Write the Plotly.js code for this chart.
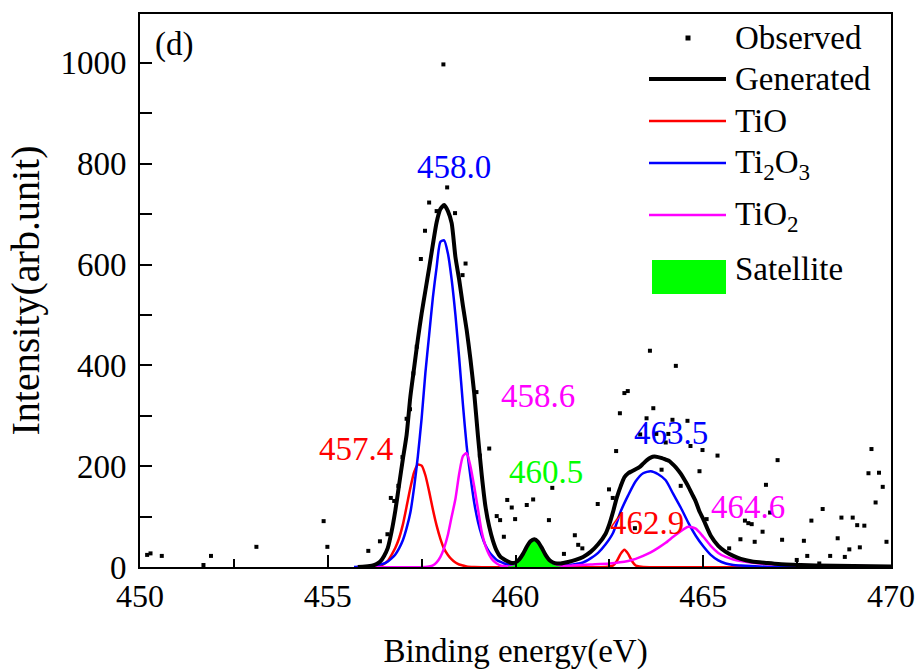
<!DOCTYPE html>
<html>
<head>
<meta charset="utf-8">
<script src="https://cdn.plot.ly/plotly-3.0.1.min.js"></script>
<style>html,body{margin:0;padding:0;background:#fff;}#chart{width:920px;height:670px;}</style>
</head>
<body>
<div id="chart"></div>
<script>
// Observed data points
var obsEnergy = [450.19, 450.28, 450.58, 451.69, 451.89, 453.10, 454.89, 454.99, 456.08, 456.39,
  456.59, 456.68, 456.77, 456.88, 456.99, 457.10, 457.19, 457.28, 457.37, 457.48,
  457.59, 457.70, 457.90, 458.08, 458.18, 458.39, 458.59, 458.67, 458.96, 459.05,
  459.30, 459.50, 459.59, 459.69, 459.78, 459.90, 459.99, 460.30, 460.47, 460.89,
  460.98, 461.29, 461.58, 461.67, 461.78, 462.19, 462.49, 462.59, 462.68, 462.78,
  462.90, 462.99, 463.18, 463.32, 463.49, 463.58, 463.67, 463.75, 463.89, 464.00,
  464.07, 464.18, 464.27, 464.40, 464.58, 464.66, 464.90, 464.98, 465.09, 465.38,
  465.69, 465.99, 466.11, 466.20, 466.29, 466.37, 466.58, 466.67, 466.78, 466.98,
  467.10, 467.49, 467.68, 467.77, 467.88, 468.09, 468.18, 468.38, 468.58, 468.68,
  468.77, 468.89, 468.98, 469.10, 469.17, 469.29, 469.40, 469.48, 469.59, 469.68,
  469.78, 469.88];
var obsIntensity = [24, 27, 22, 4, 22, 40, 91, 40, 32, 51,
  65, 137, 131, 161, 218, 294, 313, 384, 437, 611,
  667, 723, 706, 997, 753, 702, 579, 602, 347, 221,
  235, 101, 93, 60, 133, 118, 95, 123, 134, 93,
  157, 26, 63, 44, 37, 125, 154, 137, 230, 305,
  345, 349, 77, 263, 295, 429, 315, 264, 193, 247,
  264, 292, 399, 161, 290, 240, 190, 232, 95, 221,
  37, 55, 92, 87, 85, 50, 70, 163, 108, 212,
  54, 14, 52, 22, 92, 7, 115, 22, 57, 98,
  20, 35, 98, 83, 39, 82, 186, 234, 128, 187,
  159, 50];

// Generated (fitted envelope)
var genEnergy = [455.8, 456.0, 456.2, 456.3, 456.4,
  456.5, 456.6, 456.7, 456.8, 456.9, 457.0, 457.1, 457.2, 457.3, 457.4,
  457.5, 457.6, 457.7, 457.8, 457.9, 458.0, 458.1, 458.2, 458.3, 458.4,
  458.5, 458.6, 458.7, 458.8, 458.9, 459.0, 459.1, 459.2, 459.3, 459.4,
  459.5, 459.6, 459.7, 459.8, 459.9, 460.0, 460.1, 460.2, 460.3, 460.4,
  460.5, 460.6, 460.7, 460.8, 460.9, 461.0, 461.1, 461.2,
  461.4, 461.6, 461.8, 462.0, 462.2, 462.4,
  462.5, 462.6, 462.7, 462.8, 462.9, 463.0, 463.1, 463.2, 463.3, 463.4,
  463.5, 463.6, 463.7, 463.8, 463.9, 464.0, 464.1, 464.2, 464.3, 464.4,
  464.5, 464.6, 464.7, 464.8, 464.9, 465.0,
  465.2, 465.4, 465.6, 465.8, 466.0,
  466.3, 466.7, 467.0, 467.6, 468.0, 469.0, 470.0];
var genIntensity = [0, 1, 3, 6, 11,
  22, 38, 70, 112, 163, 214, 262, 338, 395, 452,
  503, 548, 593, 640, 684, 710, 718, 706, 682, 615,
  570, 518, 470, 412, 345, 260, 183, 120, 80, 52,
  32, 20, 15, 11, 8, 9, 15, 26, 40, 51,
  55, 50, 38, 24, 14, 9, 7, 7,
  10, 14, 20, 30, 45, 66,
  85, 110, 138, 160, 178, 186, 190, 194, 198, 205,
  212, 217, 219, 218, 216, 213, 210, 203, 195, 185,
  173, 160, 145, 130, 110, 95,
  62, 42, 30, 22, 16,
  11, 8, 6, 4, 3, 2, 1];

// TiO component
var tioEnergy = [455.8, 456.2, 456.3, 456.4, 456.5, 456.6, 456.7, 456.8, 456.9, 457.0,
  457.1, 457.2, 457.3, 457.4, 457.5, 457.6, 457.7, 457.8, 457.9, 458.0,
  458.1, 458.2, 458.3, 458.4, 458.5, 458.6, 458.7, 458.9,
  462.4, 462.5, 462.6, 462.7, 462.8, 462.9, 463.0, 463.1, 463.2, 463.3, 463.4, 470.0];
var tioIntensity = [0, 1, 2, 3, 6, 12, 24, 38, 57, 84,
  120, 157, 188, 203, 201, 182, 150, 114, 82, 56,
  36, 24, 15, 9, 5, 3, 1, 0,
  0, 1, 3, 12, 26, 34, 26, 12, 3, 1, 0, 0];

// Ti2O3 component
var ti2o3Energy = [455.7, 456.0, 456.2, 456.4,
  456.5, 456.6, 456.7, 456.8, 456.9, 457.0, 457.1, 457.2, 457.3, 457.4,
  457.5, 457.6, 457.7, 457.8, 457.9, 458.0, 458.1, 458.2, 458.3, 458.4,
  458.5, 458.6, 458.7, 458.8, 458.9, 459.0, 459.1, 459.2, 459.3, 459.4,
  459.5, 459.6, 459.7, 459.8, 459.9, 460.0,
  460.5, 461.0, 461.4, 461.8,
  462.0, 462.2, 462.4, 462.6, 462.8, 463.0, 463.2, 463.4, 463.6, 463.8,
  464.0, 464.2, 464.4, 464.6, 464.8, 465.0, 465.2, 465.4, 465.6, 465.8, 466.0,
  466.5, 467.0, 470.0];
var ti2o3Intensity = [0, 1, 3, 5,
  7, 11, 17, 25, 37, 53, 77, 108, 158, 220,
  295, 385, 460, 535, 595, 645, 648, 622, 570, 500,
  415, 322, 240, 180, 128, 90, 63, 43, 30, 21,
  14, 10, 7, 5, 4, 3,
  2, 3, 4, 9,
  17, 28, 45, 68, 110, 142, 170, 186, 190, 184,
  172, 145, 118, 88, 62, 41, 24, 13, 7, 4, 3,
  1, 0, 0];

// TiO2 component
var tio2Energy = [455.8, 457.6, 457.7, 457.8, 457.9, 458.0, 458.1, 458.2, 458.3, 458.4,
  458.5, 458.6, 458.7, 458.8, 458.9, 459.0, 459.1, 459.2, 459.3, 459.4,
  459.5, 459.6, 459.7, 459.8, 460.0, 460.5, 461.0, 461.5, 462.0, 462.5,
  463.0, 463.2, 463.4, 463.6, 463.8, 464.0, 464.2, 464.4, 464.6, 464.8,
  465.0, 465.2, 465.4, 465.6, 465.8, 466.0, 466.5, 467.0, 467.5, 468.0,
  469.0, 470.0];
var tio2Intensity = [0, 0, 1, 3, 9, 20, 38, 64, 100, 135,
  185, 220, 226, 200, 160, 115, 70, 42, 24, 13,
  7, 3, 2, 1, 1, 1, 2, 3, 5, 7,
  12, 16, 22, 29, 38, 48, 60, 71, 80, 76,
  60, 42, 28, 20, 15, 12, 7, 5, 4, 3,
  2, 1];

// Satellite
var satEnergy = [459.8, 459.9, 460.0, 460.1, 460.2, 460.3, 460.4, 460.5, 460.6, 460.7, 460.8, 460.9, 461.0, 461.1, 461.2];
var satIntensity = [0, 1, 4, 11, 23, 37, 48, 52, 46, 33, 19, 9, 4, 1, 0];

// Peak labels and legend names
var peakLabels = ['458.0', '457.4', '458.6', '460.5', '463.5', '462.9', '464.6'];
var legendNames = ['Observed', 'Generated', 'TiO', 'Ti<sub>2</sub>O<sub>3</sub>', 'TiO<sub>2</sub>', 'Satellite'];

var FONT = 'Liberation Serif';
var RED = '#ff0000', BLUE = '#0000ff', MAG = '#ff00ff', GREEN = '#00ff00';

var traces = [
  {x: obsEnergy, y: obsIntensity, type: 'scatter', mode: 'markers', name: 'Observed',
   marker: {symbol: 'square', size: 4, color: '#000'}},
  {x: tioEnergy, y: tioIntensity, type: 'scatter', mode: 'lines', name: 'TiO',
   line: {color: RED, width: 2.5, shape: 'spline', smoothing: 0.6}},
  {x: ti2o3Energy, y: ti2o3Intensity, type: 'scatter', mode: 'lines', name: 'Ti2O3',
   line: {color: BLUE, width: 2.5, shape: 'spline', smoothing: 0.6}},
  {x: tio2Energy, y: tio2Intensity, type: 'scatter', mode: 'lines', name: 'TiO2',
   line: {color: MAG, width: 2.5, shape: 'spline', smoothing: 0.6}},
  {x: satEnergy, y: satIntensity, type: 'scatter', mode: 'lines', name: 'Satellite',
   fill: 'tozeroy', fillcolor: GREEN, line: {color: GREEN, width: 1, shape: 'spline', smoothing: 0.6}},
  {x: genEnergy, y: genIntensity, type: 'scatter', mode: 'lines', name: 'Generated',
   line: {color: '#000', width: 4, shape: 'spline', smoothing: 0.6}}
];

// pixel helpers for layout positions (plot area: x 140..891, y 14..567)
function px(p) { return (p - 140) / 751; }
function py(p) { return (567 - p) / 553; }

var annots = [
  {text: '(d)', x: px(174), y: py(45), color: '#000'},
  {text: peakLabels[0], x: px(454), y: py(167), color: BLUE},
  {text: peakLabels[1], x: px(356), y: py(449), color: RED},
  {text: peakLabels[2], x: px(538), y: py(396), color: MAG},
  {text: peakLabels[3], x: px(546), y: py(472), color: GREEN},
  {text: peakLabels[4], x: px(671), y: py(433), color: BLUE},
  {text: peakLabels[5], x: px(647), y: py(523), color: RED},
  {text: peakLabels[6], x: px(748), y: py(507), color: MAG}
].map(function (a) {
  return {xref: 'paper', yref: 'paper', x: a.x, y: a.y, text: a.text, showarrow: false,
    xanchor: 'center', yanchor: 'middle', font: {family: FONT, size: 33, color: a.color}};
});

var legY = [38, 79, 121, 164, 216, 269];
legendNames.forEach(function (n, i) {
  annots.push({xref: 'paper', yref: 'paper', x: px(733), y: py(legY[i]), text: n, showarrow: false,
    xanchor: 'left', yanchor: 'middle', font: {family: FONT, size: 33, color: '#000'}});
});

var shapes = [
  {type: 'rect', xref: 'paper', yref: 'paper', x0: px(685.5), x1: px(690.5), y0: py(40.5), y1: py(35.5),
   fillcolor: '#000', line: {width: 0}},
  {type: 'line', xref: 'paper', yref: 'paper', x0: px(649), x1: px(726), y0: py(79), y1: py(79),
   line: {color: '#000', width: 4}},
  {type: 'line', xref: 'paper', yref: 'paper', x0: px(649), x1: px(726), y0: py(121), y1: py(121),
   line: {color: RED, width: 2.5}},
  {type: 'line', xref: 'paper', yref: 'paper', x0: px(649), x1: px(726), y0: py(163), y1: py(163),
   line: {color: BLUE, width: 2.5}},
  {type: 'line', xref: 'paper', yref: 'paper', x0: px(649), x1: px(726), y0: py(215), y1: py(215),
   line: {color: MAG, width: 2.5}},
  {type: 'rect', xref: 'paper', yref: 'paper', x0: px(652), x1: px(726), y0: py(294), y1: py(260),
   fillcolor: GREEN, line: {width: 0}}
];

var layout = {
  width: 920, height: 670,
  margin: {l: 140, r: 29, t: 14, b: 103, pad: 0},
  paper_bgcolor: '#fff', plot_bgcolor: '#fff',
  showlegend: false,
  font: {family: FONT, size: 32, color: '#000'},
  xaxis: {
    range: [450, 470], dtick: 5, tick0: 450,
    ticks: 'inside', ticklen: 12, tickwidth: 2, tickcolor: '#000',
    minor: {dtick: 2.5, ticks: 'inside', ticklen: 8, tickwidth: 2, tickcolor: '#000', showgrid: false},
    showline: true, linewidth: 2, linecolor: '#000', mirror: true,
    showgrid: false, zeroline: false,
    tickfont: {family: FONT, size: 32, color: '#000'},
    title: {text: 'Binding energy(eV)', font: {family: FONT, size: 33, color: '#000'}, standoff: 26}
  },
  yaxis: {
    range: [0, 1097], dtick: 200, tick0: 0,
    ticks: 'inside', ticklen: 12, tickwidth: 2, tickcolor: '#000',
    minor: {dtick: 100, ticks: 'inside', ticklen: 12, tickwidth: 2, tickcolor: '#000', showgrid: false},
    showline: true, linewidth: 2, linecolor: '#000', mirror: true,
    showgrid: false, zeroline: false, ticklabelstandoff: 5,
    tickfont: {family: FONT, size: 33, color: '#000'},
    title: {text: 'Intensity(arb.unit)', font: {family: FONT, size: 40, color: '#000'}, standoff: 8}
  },
  annotations: annots,
  shapes: shapes
};

Plotly.newPlot('chart', traces, layout, {displayModeBar: false, staticPlot: true});
</script>
</body>
</html>
